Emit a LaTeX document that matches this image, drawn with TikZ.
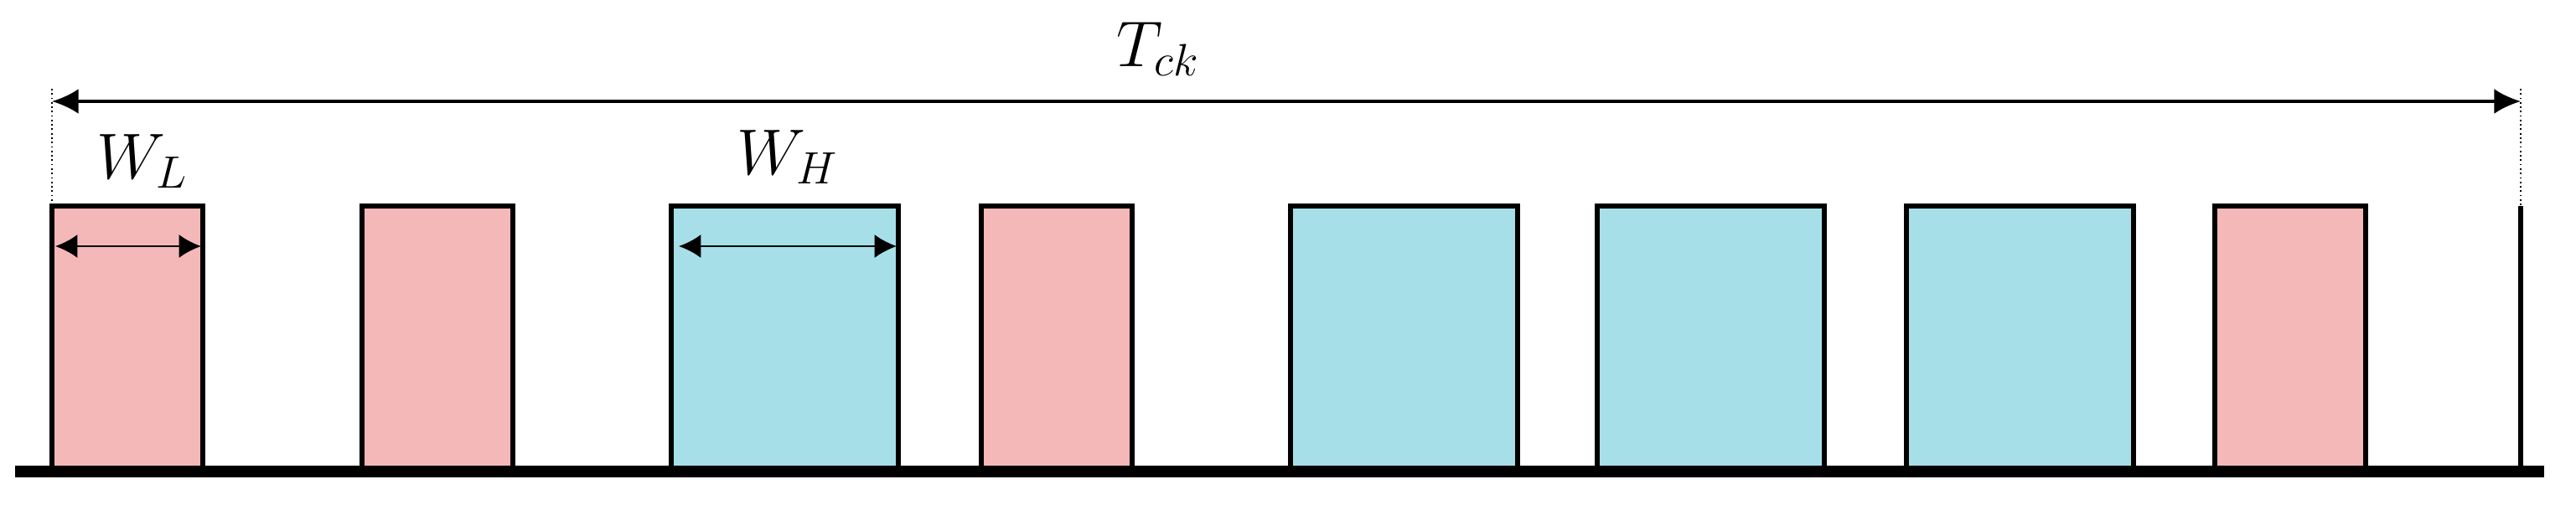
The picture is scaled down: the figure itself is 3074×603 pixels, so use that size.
\documentclass[tikz,border=0pt]{standalone}
\usepackage{fix-cm}
\usetikzlibrary{arrows.meta}
\definecolor{pinkfill}{HTML}{F4B8B9}
\definecolor{bluefill}{HTML}{A6DFE8}
\begin{document}
\begin{tikzpicture}[x=0.01cm,y=-0.01cm,
  bar/.style={draw=black, line width=1.8pt, outer sep=0pt, inner sep=0pt,
    minimum height=3.17cm, anchor=south west},
  pinkbar/.style={bar, fill=pinkfill, minimum width=1.8cm},
  bluebar/.style={bar, fill=bluefill, minimum width=2.71cm},
  ground/.style={line width=4.2pt},
  bigdim/.style={line width=1.1pt, {Latex[length=9pt,width=8.5pt]}-{Latex[length=9pt,width=8.5pt]}},
  smalldim/.style={line width=0.8pt, {Latex[length=7.5pt,width=8pt]}-{Latex[length=7.5pt,width=8pt]}},
  guide/.style={line width=0.5pt, densely dotted},
  lab/.style={font=\fontsize{22}{26}\selectfont, inner sep=0pt, anchor=base}]
\useasboundingbox (0,0) rectangle (3074,603);
% pulses
\node[pinkbar] (b1) at (62,563) {};
\node[pinkbar] (b2) at (432,563) {};
\node[bluebar] (b3) at (801,563) {};
\node[pinkbar] (b4) at (1171,563) {};
\node[bluebar] (b5) at (1540,563) {};
\node[bluebar] (b6) at (1906,563) {};
\node[bluebar] (b7) at (2275,563) {};
\node[pinkbar] (b8) at (2643,563) {};
% final edge
\coordinate (e0) at (3008,563);
\coordinate (e1) at (3008,246);
\draw[line width=1.8pt] (e0) -- (e1);
% ground
\coordinate (g0) at (18,563);
\coordinate (g1) at (3036,563);
\draw[ground] (g0) -- (g1);
% period guides
\coordinate (tl) at (62,106);
\coordinate (tr) at (3008,106);
\draw[guide] (tl) -- (b1.north west);
\draw[guide] (tr) -- (e1);
% period arrow
\coordinate (al) at (62,121);
\coordinate (ar) at (3008,121);
\draw[bigdim] (al) -- (ar);
\node[lab] (tck) at (1382,79) {$T_{ck}$};
% width arrows
\coordinate (wl0) at (66,294);
\coordinate (wl1) at (240,294);
\draw[smalldim] (wl0) -- (wl1);
\node[lab] (wl) at (170,213) {$W_L$};
\coordinate (wh0) at (810,294);
\coordinate (wh1) at (1070,294);
\draw[smalldim] (wh0) -- (wh1);
\node[lab] (wh) at (940,208) {$W_H$};
\end{tikzpicture}
\end{document}
